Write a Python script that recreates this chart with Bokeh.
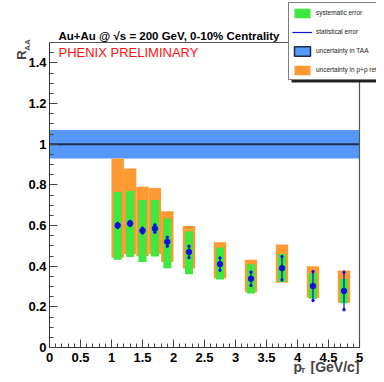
from bokeh.plotting import figure
from bokeh.models import (Range1d, Label, Legend, LegendItem, SingleIntervalTicker,
                          ColumnDataSource, BoxAnnotation)
from bokeh.embed import file_html
from bokeh.resources import INLINE

# ---- data ----
pt = [1.1, 1.3, 1.5, 1.7, 1.9, 2.25, 2.75, 3.25, 3.75, 4.25, 4.75]
raa = [0.60, 0.61, 0.575, 0.585, 0.52, 0.47, 0.41, 0.338, 0.39, 0.302, 0.278]
stat_err = [0.01, 0.01, 0.012, 0.018, 0.022, 0.028, 0.03, 0.033, 0.057, 0.071, 0.092]
sys_hi = [0.765, 0.77, 0.725, 0.725, 0.634, 0.572, 0.492, 0.41, 0.46, 0.366, 0.338]
sys_lo = [0.432, 0.445, 0.42, 0.448, 0.39, 0.36, 0.335, 0.265, 0.322, 0.24, 0.218]
pp_hi = [0.93, 0.88, 0.79, 0.785, 0.67, 0.597, 0.518, 0.432, 0.506, 0.40, 0.379]
pp_lo = [0.442, 0.46, 0.45, 0.46, 0.42, 0.388, 0.34, 0.272, 0.318, 0.245, 0.22]
taa_center = 1.0
taa_unc = 0.07

x_axis_span = (0, 5)
y_axis_span = (0, 1.5)
x_tick_labels = ["0", "0.5", "1", "1.5", "2", "2.5", "3", "3.5", "4", "4.5", "5"]
x_tick_values = [0, 0.5, 1, 1.5, 2, 2.5, 3, 3.5, 4, 4.5, 5]
y_tick_labels = ["0", "0.2", "0.4", "0.6", "0.8", "1", "1.2", "1.4"]
y_tick_values = [0, 0.2, 0.4, 0.6, 0.8, 1.0, 1.2, 1.4]

title_text = "Au+Au @ \u221as = 200 GeV, 0-10% Centrality"
prelim_text = "PHENIX PRELIMINARY"
legend_labels = ["systematic error", "statistical error", "uncertainty in TAA",
                 "uncertainty in p+p reference"]

GREEN = "#3ee83e"
ORANGE = "#ff9a33"
BLUE_BAND = "#5598fa"
MARKER = "#1010e0"
DARK = "#1b2c4c"
FONT = "Liberation Sans"

sys_w = 0.13
pp_w = 0.2

# ---- layout: the frame covers the whole canvas, axes sit at fixed locations ----
W, H = 376, 374
AX_L, AX_R = 49, 359      # pixel positions of x = 0 and x = 5 inside the canvas
AX_B, AX_T = 27, 332      # pixel positions (from bottom) of y = 0 and y = 1.5
xpx = (x_axis_span[1] - x_axis_span[0]) / (AX_R - AX_L)
ypx = (y_axis_span[1] - y_axis_span[0]) / (AX_T - AX_B)
xr = Range1d(x_axis_span[0] - AX_L * xpx, x_axis_span[1] + (W - AX_R) * xpx)
yr = Range1d(y_axis_span[0] - AX_B * ypx, y_axis_span[1] + (H - AX_T) * ypx)

src = ColumnDataSource(dict(
    pt=pt, raa=raa,
    stat_lo=[r - e for r, e in zip(raa, stat_err)],
    stat_hi=[r + e for r, e in zip(raa, stat_err)],
    sys_lo=sys_lo, sys_hi=sys_hi, pp_lo=pp_lo, pp_hi=pp_hi,
    pp_l=[x - pp_w / 2 for x in pt], pp_r=[x + pp_w / 2 for x in pt],
    sys_l=[x - sys_w / 2 for x in pt], sys_r=[x + sys_w / 2 for x in pt],
))
band_src = ColumnDataSource(dict(left=[x_axis_span[0]], right=[x_axis_span[1]],
                                 bottom=[taa_center - taa_unc], top=[taa_center + taa_unc]))

p = figure(width=W, height=H, x_range=xr, y_range=yr,
           output_backend="svg", toolbar_location=None, min_border=0)
p.background_fill_color = "white"
p.border_fill_color = "white"
p.outline_line_color = None
p.xgrid.visible = False
p.ygrid.visible = False

# axes
p.xaxis.ticker = SingleIntervalTicker(interval=0.5, num_minor_ticks=5)
p.yaxis.ticker = SingleIntervalTicker(interval=0.2, num_minor_ticks=4)
p.xaxis.major_label_overrides = dict(zip(x_tick_values, x_tick_labels))
p.yaxis.major_label_overrides = dict(zip(y_tick_values, y_tick_labels))
p.xaxis.bounds = x_axis_span
p.yaxis.bounds = y_axis_span
p.xaxis.fixed_location = y_axis_span[0]
p.yaxis.fixed_location = x_axis_span[0]
for ax in (p.xaxis, p.yaxis):
    ax.major_tick_in = 8
    ax.major_tick_out = 0
    ax.minor_tick_in = 4
    ax.minor_tick_out = 0
    ax.major_tick_line_color = "#444444"
    ax.minor_tick_line_color = "#444444"
    ax.axis_line_color = "#333333"
    ax.major_label_text_font = FONT
    ax.major_label_text_font_style = "bold"
    ax.major_label_text_font_size = "13px"
    ax.major_label_text_color = "black"
p.xaxis.major_label_standoff = 5
p.yaxis.major_label_standoff = 3

# T_AA band and unity line
p.quad(left="left", right="right", bottom="bottom", top="top", source=band_src,
       fill_color=BLUE_BAND, line_color=None)
p.line(x=list(x_axis_span), y=[taa_center, taa_center], line_color=DARK, line_width=2)

# boxes
r_pp = p.quad(left="pp_l", right="pp_r", bottom="pp_lo", top="pp_hi", source=src,
              fill_color=ORANGE, line_color=None)
r_sys = p.quad(left="sys_l", right="sys_r", bottom="sys_lo", top="sys_hi", source=src,
               fill_color=GREEN, line_color=None)
r_stat = p.segment(x0="pt", x1="pt", y0="stat_lo", y1="stat_hi", source=src,
                   line_color=MARKER, line_width=1.2)
p.scatter(x="pt", y="stat_lo", source=src, marker="circle", size=2.5, color=MARKER)
p.scatter(x="pt", y="stat_hi", source=src, marker="circle", size=2.5, color=MARKER)
p.scatter(x="pt", y="raa", source=src, marker="circle", size=5.5, color=MARKER)

# top and right frame lines
p.line(x=[x_axis_span[0], x_axis_span[1], x_axis_span[1]],
       y=[y_axis_span[1], y_axis_span[1], y_axis_span[0]],
       line_color="#555555", line_width=1.2)

# legend-only renderer for the TAA entry (bordered blue box), hidden in the plot
leg_taa = p.quad(left="left", right="right", bottom="bottom", top="top", source=band_src,
                 fill_color=BLUE_BAND, line_color=DARK, line_width=1.5, visible=False)

# legend shadow
p.add_layout(BoxAnnotation(left=291, right=420, bottom=292, top=368,
                           left_units="screen", right_units="screen",
                           bottom_units="screen", top_units="screen",
                           fill_color="#222222", fill_alpha=1.0, line_color=None))

legend = Legend(items=[
    LegendItem(label=legend_labels[0], renderers=[r_sys]),
    LegendItem(label=legend_labels[1], renderers=[r_stat]),
    LegendItem(label=legend_labels[2], renderers=[leg_taa]),
    LegendItem(label=legend_labels[3], renderers=[r_pp]),
], location=(288, 294))
legend.label_text_font = FONT
legend.label_text_font_size = "6.5px"
legend.label_text_color = "#222222"
legend.glyph_width = 20
legend.glyph_height = 12
legend.label_height = 13
legend.spacing = 6
legend.padding = 3
legend.margin = 0
legend.label_standoff = 4
legend.border_line_color = "black"
legend.border_line_width = 1
legend.background_fill_color = "white"
legend.background_fill_alpha = 1.0
p.add_layout(legend)

# texts (screen units measured from the canvas bottom-left)
p.add_layout(Label(x=58, y=339, x_units="screen", y_units="screen", text=title_text,
                   text_font=FONT, text_font_style="bold",
                   text_font_size="11.5px", text_baseline="middle", text_color="black"))
p.add_layout(Label(x=58, y=322, x_units="screen", y_units="screen", text=prelim_text,
                   text_font=FONT, text_font_size="13px",
                   text_baseline="middle", text_color="#ff1010"))
# y axis title R_AA
p.add_layout(Label(x=20.5, y=319.5, x_units="screen", y_units="screen", text="R",
                   angle=1.5708, text_font=FONT, text_font_style="bold",
                   text_font_size="13px", text_align="center", text_baseline="middle"))
p.add_layout(Label(x=26.5, y=329.5, x_units="screen", y_units="screen", text="AA",
                   angle=1.5708, text_font=FONT, text_font_style="bold",
                   text_font_size="8px", text_align="center", text_baseline="middle"))
# x axis title p_T [GeV/c]
p.add_layout(Label(x=293, y=8, x_units="screen", y_units="screen", text="p",
                   text_font=FONT, text_font_style="bold",
                   text_font_size="14px", text_baseline="middle"))
p.add_layout(Label(x=300, y=4, x_units="screen", y_units="screen", text="T",
                   text_font=FONT, text_font_style="bold",
                   text_font_size="8px", text_baseline="middle"))
p.add_layout(Label(x=359, y=8, x_units="screen", y_units="screen", text="[GeV/c]",
                   text_font=FONT, text_font_style="bold",
                   text_font_size="14px", text_align="right", text_baseline="middle"))

open("out.html", "w").write(file_html(p, INLINE))
